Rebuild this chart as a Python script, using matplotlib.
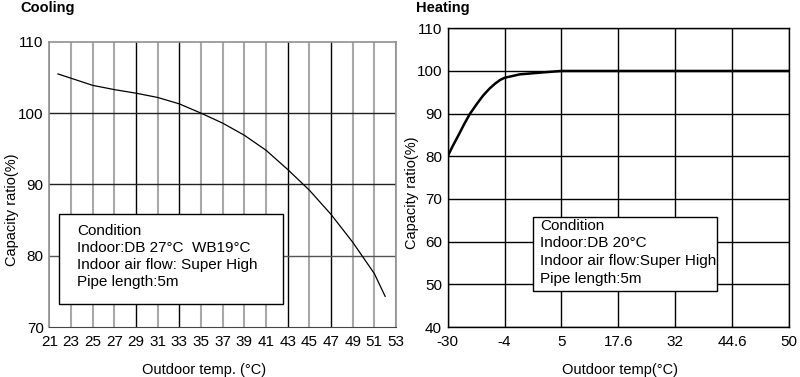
import numpy as np
import matplotlib
matplotlib.use("Agg")
import matplotlib.pyplot as plt
from matplotlib.patches import Rectangle

plt.rcParams["font.family"] = ["Liberation Sans", "DejaVu Sans"]

# Cooling curve (outdoor temp °C -> capacity %)
cool_temp = [21.8, 23, 25, 27, 29, 31, 33, 35, 37, 39, 41, 43, 45, 47, 49, 51, 52.0]
cool_cap = [105.5, 104.9, 103.9, 103.3, 102.8, 102.2, 101.3, 100.0, 98.6, 96.9,
            94.8, 92.1, 89.2, 85.8, 81.9, 77.5, 74.3]
cool_xticks = list(range(21, 54, 2))
cool_yticks = [70, 80, 90, 100, 110]
cool_dark = [29, 33, 43, 47]

# Heating curve
heat_temp = [-30, -27.5, -25, -22.5, -19.9, -16.5, -13.7, -10.8, -8.4, -6, -4,
             -1.6, 1.6, 5, 17.6, 32, 44.6, 50]
heat_cap = [80, 82.6, 85.0, 87.5, 89.9, 92.4, 94.3, 95.9, 97.0, 97.9, 98.4,
            99.2, 99.6, 100, 100, 100, 100, 100]
heat_xticks = [-30, -4, 5, 17.6, 32, 44.6, 50]
heat_xlabels = ["-30", "-4", "5", "17.6", "32", "44.6", "50"]
heat_yticks = [40, 50, 60, 70, 80, 90, 100, 110]

cool_note = ["Condition", "Indoor:DB 27°C  WB19°C", "Indoor air flow: Super High", "Pipe length:5m"]
heat_note = ["Condition", "Indoor:DB 20°C", "Indoor air flow:Super High", "Pipe length:5m"]

FS = 10.5
TFS = 11
fig = plt.figure(figsize=(8, 3.77), dpi=100, facecolor="white")

# ---- Cooling ----
ax1 = fig.add_axes([0.0616, 0.1326, 0.4334, 0.7564])
ax1.set_xlim(21, 53)
ax1.set_ylim(70, 110)
for t in cool_xticks:
    if t in cool_dark:
        ax1.axvline(t, color="black", lw=1.0, zorder=1)
    else:
        ax1.axvline(t, color="#a8a8a8", lw=1.5, zorder=1)
for v in cool_yticks[1:-1]:
    ax1.axhline(v, color="#222222" if v != 80 else "#555555", lw=1.0, zorder=1)
for s in ["left", "top", "right"]:
    ax1.spines[s].set_color("#909090")
    ax1.spines[s].set_linewidth(1.2)
ax1.spines["bottom"].set_color("#444444")
ax1.plot(cool_temp, cool_cap, color="black", lw=0.9, zorder=3)
ax1.set_xticks(cool_xticks)
ax1.set_yticks(cool_yticks)
ax1.tick_params(length=0, labelsize=TFS)
ax1.tick_params(axis="x", pad=6)
ax1.tick_params(axis="y", pad=4)
ax1.set_ylabel("Capacity ratio(%)", fontsize=FS)
ax1.yaxis.set_label_coords(-0.088, 0.41)
ax1.set_xlabel("Outdoor temp. (°C)", fontsize=FS)
ax1.xaxis.set_label_coords(0.445, -0.126)
ax1.add_patch(Rectangle((0.029, 0.081), 0.644, 0.314, transform=ax1.transAxes,
                        facecolor="white", edgecolor="black", lw=1.0, zorder=4))
for i, line in enumerate(cool_note):
    ax1.text(0.081, 0.336 - i * 0.059, line, transform=ax1.transAxes,
             fontsize=FS + 0.5, va="center", ha="left", zorder=5)

# ---- Heating ----
idx = np.arange(len(heat_xticks), dtype=float)


def fwd(x):
    return np.interp(x, heat_xticks, idx)


def inv(i):
    return np.interp(i, idx, heat_xticks)


ax2 = fig.add_axes([0.5596, 0.1326, 0.4266, 0.7924])
ax2.set_xscale("function", functions=(fwd, inv))
ax2.set_xlim(-30, 50)
ax2.set_ylim(40, 110)
ax2.set_xticks(heat_xticks)
ax2.set_xticklabels(heat_xlabels)
ax2.set_yticks(heat_yticks)
ax2.minorticks_off()
ax2.grid(True, color="black", lw=1.0, zorder=1)
ax2.set_axisbelow(True)
for s in ax2.spines.values():
    s.set_color("black")
    s.set_linewidth(1.0)
ax2.plot(heat_temp, heat_cap, color="black", lw=1.8, zorder=3)
ax2.tick_params(length=0, labelsize=TFS)
ax2.tick_params(axis="x", pad=6)
ax2.tick_params(axis="y", pad=4)
ax2.set_ylabel("Capacity ratio(%)", fontsize=FS)
ax2.yaxis.set_label_coords(-0.085, 0.449)
ax2.set_xlabel("Outdoor temp(°C)", fontsize=FS)
ax2.xaxis.set_label_coords(0.506, -0.12)
ax2.add_patch(Rectangle((0.251, 0.1205), 0.539, 0.2485, transform=ax2.transAxes,
                        facecolor="white", edgecolor="black", lw=1.0, zorder=4))
for i, line in enumerate(heat_note):
    ax2.text(0.270, 0.339 - i * 0.059, line, transform=ax2.transAxes,
             fontsize=FS + 0.5, va="center", ha="left", zorder=5)

fig.text(0.025, 0.978, "Cooling", fontsize=FS, weight="bold", va="center", ha="left")
fig.text(0.52, 0.978, "Heating", fontsize=FS, weight="bold", va="center", ha="left")

fig.savefig("out.png", dpi=100, facecolor="white")
